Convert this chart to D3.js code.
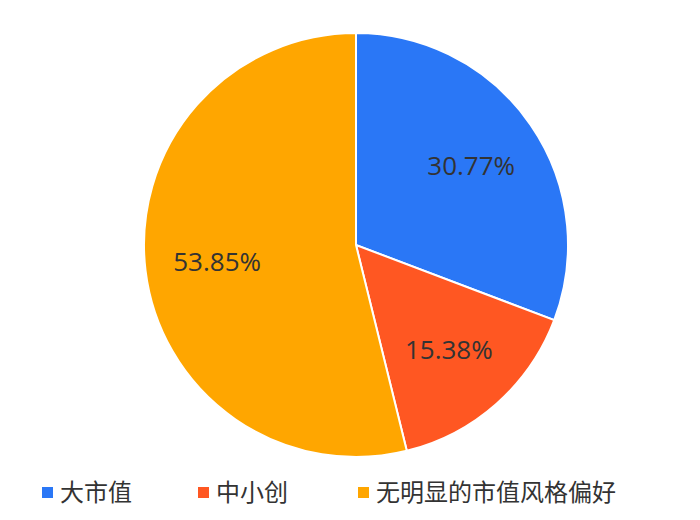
<!DOCTYPE html>
<html><head><meta charset="utf-8">
<script src="https://cdn.jsdelivr.net/npm/d3@7"></script>
<style>body{margin:0;background:#fff}</style></head>
<body><svg id="c" width="700" height="520"></svg>
<script>
const categories = ["大市值", "中小创", "无明显的市值风格偏好"];
const values = [30.77, 15.38, 53.85];
const labels = ["30.77%", "15.38%", "53.85%"];
const colors = ["#2a77f6", "#ff5722", "#ffa600"];

const svg = d3.select("#c");
const cx = 356, cy = 245, r = 212;
const g = svg.append("g").attr("transform", `translate(${cx},${cy})`);
const pie = d3.pie().sort(null).value(d => d)(values);
const arc = d3.arc().innerRadius(0).outerRadius(r);
const larc = d3.arc().innerRadius(r*0.66).outerRadius(r*0.66);
g.selectAll("path").data(pie).join("path")
  .attr("d", arc).attr("fill", (d,i) => colors[i])
  .attr("stroke", "#fff").attr("stroke-width", 2);
g.selectAll("text").data(pie).join("text")
  .attr("transform", d => `translate(${larc.centroid(d)})`)
  .attr("text-anchor", "middle").attr("dy", "0.35em")
  .attr("font-family", "Open Sans, Noto Sans, sans-serif").attr("font-size", 26)
  .attr("fill", "#333").text((d,i) => labels[i]);

const lx = [42, 198, 358];
const lg = svg.append("g");
categories.forEach((c, i) => {
  lg.append("rect").attr("x", lx[i]).attr("y", 487).attr("width", 11).attr("height", 11).attr("fill", colors[i]);
  lg.append("text").attr("x", lx[i] + 18).attr("y", 501)
    .attr("font-family", "Noto Sans CJK SC, sans-serif").attr("font-size", 24)
    .attr("fill", "#333").text(c);
});
</script></body></html>
